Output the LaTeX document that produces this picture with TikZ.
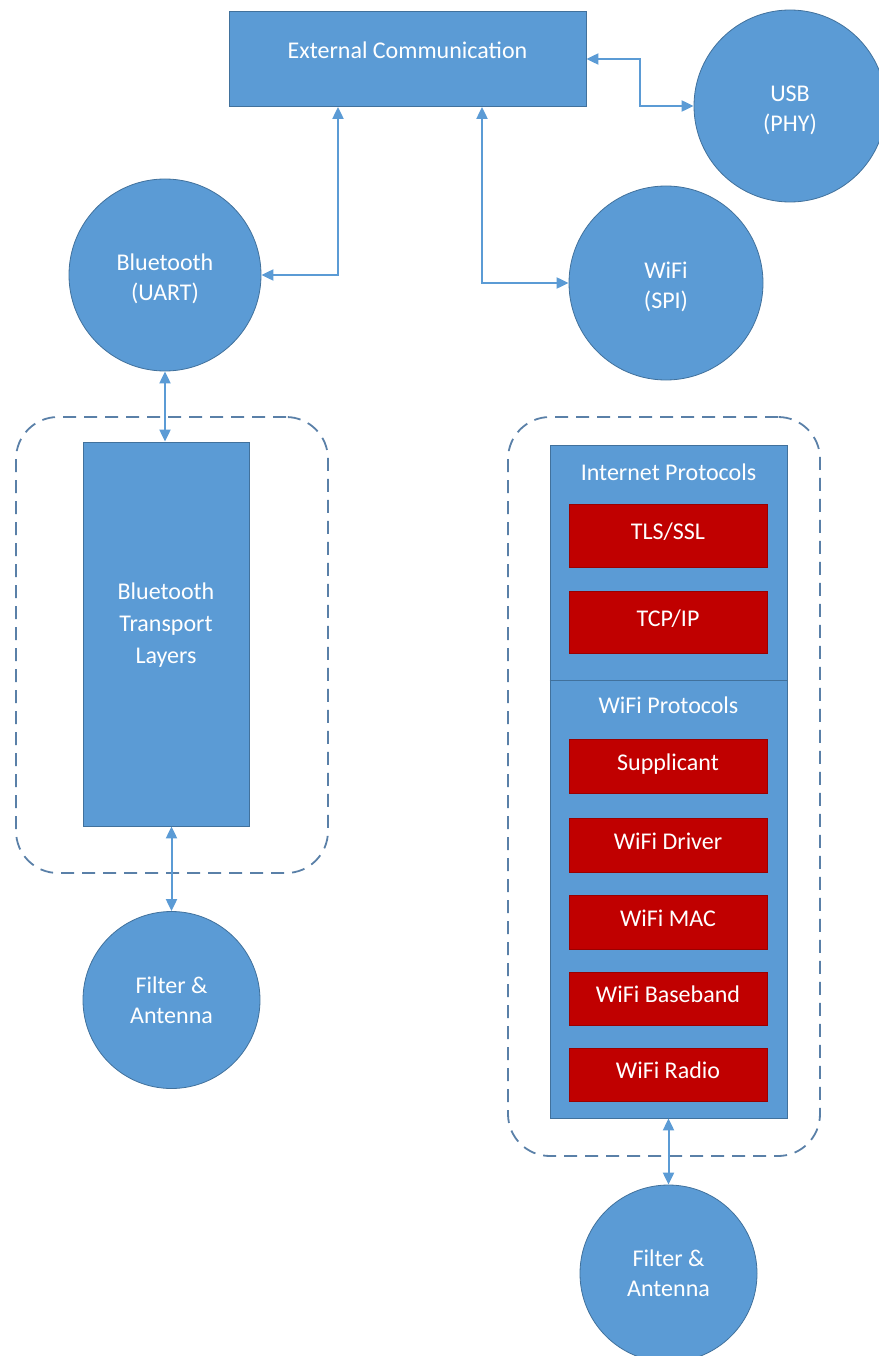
\documentclass[tikz,border=0pt]{standalone}
\usepackage{fontspec}
\setmainfont{Carlito}
\usetikzlibrary{arrows.meta,calc}
\definecolor{oblue}{HTML}{5B9BD5}
\definecolor{oblueline}{HTML}{41719C}
\definecolor{grpline}{HTML}{5A80A8}
\definecolor{ored}{HTML}{C00000}
\definecolor{oredline}{HTML}{9A0000}
\newcommand{\toppad}{\rule{0pt}{25pt}}
\begin{document}
\begin{tikzpicture}[x=1pt,y=-1pt,
  every node/.style={font=\fontsize{24}{30}\selectfont, text=white},
  box/.style={rectangle, draw=oblueline, fill=oblue, line width=0.8pt, inner sep=0pt},
  redbox/.style={rectangle, draw=oredline, fill=ored, line width=0.6pt,
    minimum width=198pt, inner sep=0pt, text height=15pt, text depth=7pt},
  disc/.style={circle, draw=oblueline, fill=oblue, line width=0.8pt,
    inner sep=0pt, align=center},
  caption/.style={align=center, inner sep=0pt},
  link/.style={draw=oblue, line width=2pt,
    {Triangle[length=12pt,width=11pt]}-{Triangle[length=12pt,width=11pt]}},
  group/.style={rectangle, draw=grpline, line width=1.8pt,
    dash pattern=on 13pt off 8pt, rounded corners=42pt, inner sep=0pt}]

\useasboundingbox (0,0) rectangle (878,1356);

% dashed groupings
\node[group, minimum width=312pt, minimum height=456pt] (btgroup) at (172,645) {};
\node[group, minimum width=312pt, minimum height=739pt] (wfgroup) at (664,786.5) {};

% top level
\node[box, minimum width=357pt, minimum height=95pt] (ext) at (407.5,59) {};
\node[caption] (extlabel) at (407.5,50) {External Communication};

\node[disc, minimum size=192pt] (usb) at (790,106) {\toppad USB\\(PHY)};
\node[disc, minimum size=192pt] (bt) at (165,275) {\toppad Bluetooth\\(UART)};
\node[disc, minimum size=194pt] (wifi) at (666,283) {\toppad WiFi\\(SPI)};

% bluetooth side
\node[box, minimum width=166pt, minimum height=384pt] (btl) at (166,634) {};
\node[caption, font=\fontsize{24}{32}\selectfont] (btllabel) at (166,625) {Bluetooth\\Transport\\Layers};
\node[disc, minimum size=177pt] (fa1) at (171.5,1000) {Filter \&\\Antenna};

% wifi stack
\node[box, minimum width=237pt, minimum height=673pt] (stack) at (668.5,781.5) {};
\coordinate (divy) at (0,680);
\draw[draw=oblueline, line width=0.8pt] (stack.west |- divy) -- (stack.east |- divy);
\node[caption] (inetlabel) at (668.5,472) {Internet Protocols};
\node[caption] (wproto) at (668.5,705) {WiFi Protocols};

\node[redbox, minimum height=63pt] (tls) at (668,535.5) {TLS/SSL};
\node[redbox, minimum height=62pt] (tcp) at (668,622) {TCP/IP};
\node[redbox, minimum height=54pt] (supp) at (668,766) {Supplicant};
\node[redbox, minimum height=54pt] (drv) at (668,845) {WiFi Driver};
\node[redbox, minimum height=54pt] (mac) at (668,922) {WiFi MAC};
\node[redbox, minimum height=53pt] (bb) at (668,998.5) {WiFi Baseband};
\node[redbox, minimum height=53pt] (radio) at (668,1074.5) {WiFi Radio};

\node[disc, minimum size=177pt] (fa2) at (668.5,1273.5) {Filter \&\\Antenna};

% connectors
\coordinate (btx) at (338,0);
\coordinate (wfx) at (482,0);
\draw[link] (bt.east) -| (ext.south -| btx);
\draw[link] (wifi.west) -| (ext.south -| wfx);
\draw[link] (ext.east) -| ($(ext.east)!0.5!(usb.west)$) |- (usb.west);
\draw[link] (bt.south) -- (bt.south |- btl.north);
\draw[link] (btl.south -| fa1.north) -- (fa1.north);
\draw[link] (stack.south) -- (fa2.north);
\end{tikzpicture}
\end{document}
